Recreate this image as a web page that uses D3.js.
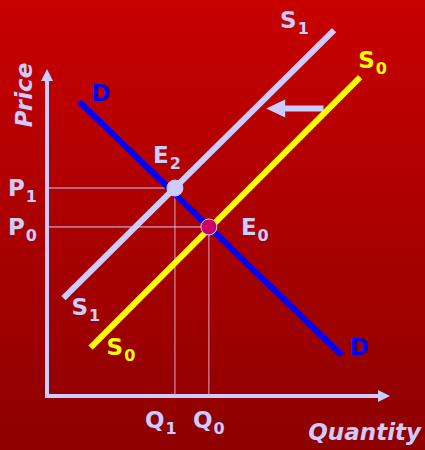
<!DOCTYPE html>
<html>
<head>
<meta charset="utf-8">
<script src="https://cdn.jsdelivr.net/npm/d3@7"></script>
<style>
  body { margin: 0; background: #a00000; }
  text { font-family: "DejaVu Sans", Verdana, sans-serif; font-weight: bold; }
</style>
</head>
<body>
<div id="chart-area"></div>
<script>
// quantity / price in 0..100 units
var demand  = [[9.4, 90.0], [85.9, 12.5]];
var supply0 = [[12.7, 14.8], [91.3, 97.5]];
var supply1 = [[4.8, 29.9], [83.7, 111.9]];
var equilibria = [
    {name: "E", sub: "2", q: 37.3, p: 63.6, pLab: "1", qLab: "1"},
    {name: "E", sub: "0", q: 47.2, p: 51.7, pLab: "0", qLab: "0"}
];
var shiftArrow = [[80.6, 87.9], [63.9, 87.9]];

var width = 425, height = 450;
var lav = "#ccccff";

var svg = d3.select("#chart-area")
    .append("svg")
        .attr("width", width)
        .attr("height", height);

var grad = svg.append("defs").append("linearGradient")
    .attr("id", "bg").attr("x1", 0).attr("y1", 0).attr("x2", 0).attr("y2", 1);
grad.append("stop").attr("offset", "0%").attr("stop-color", "#c80000");
grad.append("stop").attr("offset", "100%").attr("stop-color", "#8e0000");

svg.append("rect").attr("width", width).attr("height", height).attr("fill", "url(#bg)");

var x = d3.scaleLinear().domain([0, 100]).range([47, 390]);
var y = d3.scaleLinear().domain([0, 100]).range([396, 69]);
var line = d3.line().x(d => x(d[0])).y(d => y(d[1]));

// axes with arrow heads
svg.append("path")
    .attr("d", "M" + x(0) + "," + (y(0) + 2) + "V" + (y(100) + 10))
    .attr("stroke", lav).attr("stroke-width", 4);
svg.append("path")
    .attr("d", "M" + x(0) + "," + y(100) + "l-6,12h12z")
    .attr("fill", lav);
svg.append("path")
    .attr("d", "M" + (x(0) - 2) + "," + y(0) + "H" + (x(100) - 10))
    .attr("stroke", lav).attr("stroke-width", 4);
svg.append("path")
    .attr("d", "M" + x(100) + "," + y(0) + "l-12,-6v12z")
    .attr("fill", lav);

// guide lines to the axes
equilibria.forEach(e => {
    svg.append("line")
        .attr("x1", x(0)).attr("x2", x(e.q))
        .attr("y1", y(e.p)).attr("y2", y(e.p))
        .attr("stroke", lav).attr("stroke-width", 1);
    svg.append("line")
        .attr("x1", x(e.q)).attr("x2", x(e.q))
        .attr("y1", y(e.p)).attr("y2", y(0))
        .attr("stroke", "#e0a8d0").attr("stroke-width", 1);
});

svg.append("path").attr("d", line(supply1))
    .attr("stroke", lav).attr("stroke-width", 6).attr("fill", "none");
svg.append("path").attr("d", line(supply0))
    .attr("stroke", "#ffff00").attr("stroke-width", 6).attr("fill", "none");
svg.append("path").attr("d", line(demand))
    .attr("stroke", "#0000ff").attr("stroke-width", 6).attr("fill", "none");

// shift arrow
svg.append("path").attr("d", line([shiftArrow[0], [shiftArrow[1][0] + 5.5, shiftArrow[1][1]]]))
    .attr("stroke", lav).attr("stroke-width", 6);
svg.append("path")
    .attr("d", "M" + x(shiftArrow[1][0]) + "," + y(shiftArrow[1][1]) + "l19,-9v18z")
    .attr("fill", lav);

// equilibrium points
svg.selectAll(".eq").data(equilibria).enter()
    .append("circle")
        .attr("class", "eq")
        .attr("cx", d => x(d.q)).attr("cy", d => y(d.p))
        .attr("r", 8)
        .attr("fill", (d, i) => i == 0 ? lav : "#cc0066")
        .attr("stroke", lav).attr("stroke-width", 1);

function label(px, py, main, sub, color) {
    var t = svg.append("text").attr("x", px).attr("y", py)
        .attr("fill", color).attr("font-size", "23px").text(main);
    if (sub) {
        t.append("tspan").attr("dy", 6).attr("dx", 1).attr("font-size", "16px").text(sub);
    }
}

var dTop = demand[0], dBot = demand[1];
label(x(dTop[0]) + 12, y(dTop[1]) - 1, "D", null, "#0000ff");
label(x(dBot[0]) + 8, y(dBot[1]), "D", null, "#0000ff");
label(x(supply1[1][0]) - 54, y(supply1[1][1]) - 2, "S", "1", lav);
label(x(supply1[0][0]) + 8, y(supply1[0][1]) + 17, "S", "1", lav);
label(x(supply0[1][0]) - 2, y(supply0[1][1]) - 9, "S", "0", "#ffff00");
label(x(supply0[0][0]) + 16, y(supply0[0][1]) + 7, "S", "0", "#ffff00");

label(x(equilibria[0].q) - 22, y(equilibria[0].p) - 25, "E", "2", lav);
label(x(equilibria[1].q) + 32, y(equilibria[1].p) + 8, "E", "0", lav);

equilibria.forEach((e, i) => {
    label(8, y(e.p) + 8, "P", e.pLab, lav);
    label(x(e.q) - (i == 0 ? 30 : 16), 428, "Q", e.qLab, lav);
});

svg.append("text")
    .attr("transform", "translate(32,95) rotate(-90)")
    .attr("text-anchor", "middle")
    .attr("font-size", "23px")
    .attr("font-style", "italic")
    .attr("fill", lav)
    .text("Price");

svg.append("text")
    .attr("x", 421).attr("y", 440)
    .attr("text-anchor", "end")
    .attr("font-size", "23px")
    .attr("font-style", "italic")
    .attr("fill", lav)
    .text("Quantity");
</script>
</body>
</html>
